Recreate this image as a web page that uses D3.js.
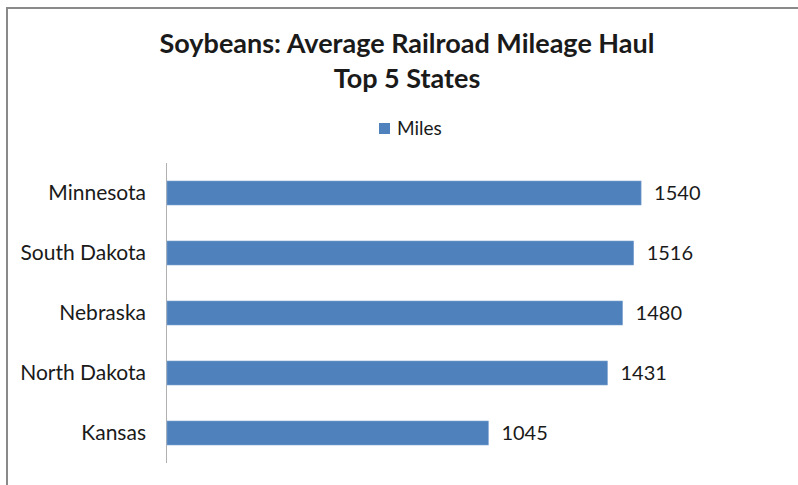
<!DOCTYPE html>
<html>
<head>
<meta charset="utf-8">
<script src="https://cdn.jsdelivr.net/npm/d3@7"></script>
<style>
  body { margin: 0; background: #fff; }
  svg text { font-family: Lato, "Open Sans", sans-serif; fill: #1a1a1a; }
</style>
</head>
<body>
<div id="chart"></div>
<script>
// chart data
const states = ["Minnesota", "South Dakota", "Nebraska", "North Dakota", "Kansas"];
const miles = [1540, 1516, 1480, 1431, 1045];
const titleLines = ["Soybeans: Average Railroad Mileage Haul", "Top 5 States"];
const seriesName = "Miles";

const width = 798, height = 485;
const plot = { left: 166, top: 163, bottom: 463 };

const svg = d3.select("#chart").append("svg")
  .attr("width", width)
  .attr("height", height);

// outer frame (only top & left edges visible in the crop)
svg.append("rect")
  .attr("x", 7).attr("y", 8)
  .attr("width", width + 10).attr("height", height + 10)
  .attr("fill", "none")
  .attr("stroke", "#8a8a8a")
  .attr("stroke-width", 2);

// title
svg.append("g").selectAll("text")
  .data(titleLines)
  .enter()
  .append("text")
  .attr("x", 407)
  .attr("y", (d, i) => 53 + i * 35)
  .attr("text-anchor", "middle")
  .style("font-weight", "bold")
  .style("font-size", "27px")
  .text(d => d);

// legend
const legend = svg.append("g");
legend.append("rect")
  .attr("x", 379).attr("y", 123)
  .attr("width", 11).attr("height", 11)
  .attr("fill", "#4f81bd");
legend.append("text")
  .attr("x", 397).attr("y", 135)
  .style("font-size", "19px")
  .text(seriesName);

// scales
const x = d3.scaleLinear()
  .domain([0, 1800])
  .range([plot.left, plot.left + 1800 * 0.3085]);

const y = d3.scaleBand()
  .domain(states)
  .range([plot.top, plot.bottom])
  .paddingInner(0.6)
  .paddingOuter(0.3);

// category axis
const yAxis = svg.append("g")
  .attr("transform", "translate(" + plot.left + ",0)")
  .call(d3.axisLeft(y).tickSize(0).tickPadding(20));
yAxis.select(".domain")
  .attr("stroke", "#b0b0b0")
  .attr("d", "M0.5," + plot.top + "V" + plot.bottom);
yAxis.selectAll("text")
  .style("font-size", "21px")
  .style("font-family", "Lato, 'Open Sans', sans-serif")
  .attr("fill", "#1a1a1a");

// bars
svg.append("g").selectAll("rect")
  .data(states)
  .enter()
  .append("rect")
  .attr("x", x(0) + 1)
  .attr("y", d => y(d))
  .attr("width", (d, i) => x(miles[i]) - x(0) - 1)
  .attr("height", y.bandwidth())
  .attr("fill", "#4f81bd")
  .attr("stroke", "#7ea3d0")
  .attr("stroke-width", 0.6);

// value labels
svg.append("g").selectAll("text")
  .data(states)
  .enter()
  .append("text")
  .attr("x", (d, i) => x(miles[i]) + 13)
  .attr("y", d => y(d) + y.bandwidth() / 2)
  .attr("dy", "0.36em")
  .style("font-size", "20px")
  .text((d, i) => miles[i]);
</script>
</body>
</html>
